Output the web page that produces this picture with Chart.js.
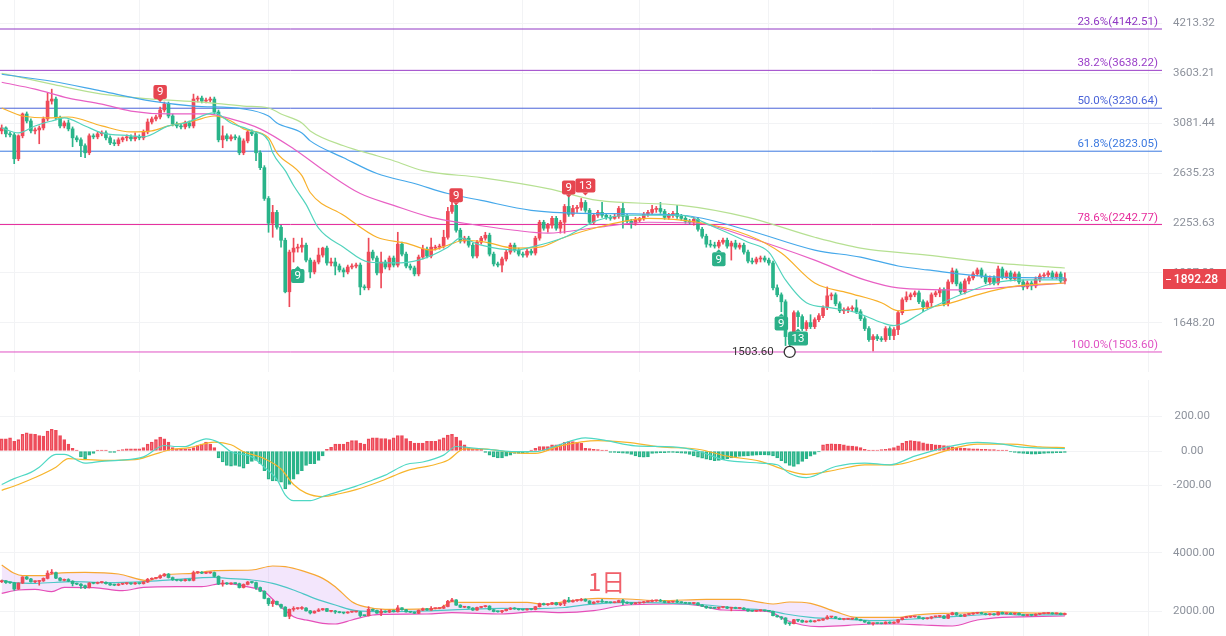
<!DOCTYPE html>
<html lang="zh">
<head>
<meta charset="utf-8">
<title>1日</title>
<script src="https://cdn.jsdelivr.net/npm/chart.js@4.4.1/dist/chart.umd.min.js"></script>
<style>
  html, body { margin: 0; padding: 0; background: #fff; }
  body { position: relative; width: 1226px; height: 636px; overflow: hidden; }
  .pane { position: absolute; left: 0; width: 1226px; }
  .pane canvas { display: block; }
  #periodTag { position: absolute; left: 588px; top: 569px; font: 24px/24px "Noto Sans CJK SC", sans-serif; color: #f0606a; }
</style>
</head>
<body>
<div class="pane" style="top:0;height:372px"><canvas id="priceChart" width="1226" height="372"></canvas></div>
<div class="pane" style="top:380px;height:140px"><canvas id="macdChart" width="1226" height="140"></canvas></div>
<div class="pane" style="top:520px;height:116px"><canvas id="bandChart" width="1226" height="116"></canvas></div>
<div id="periodTag">1日</div>
<script>
// daily candles, index 0..255
const opens = [
  3009, 3037, 2981, 2972, 2757, 2963, 3173, 3104, 3009, 3018,
  3037, 3124, 3304, 3325, 3134, 3056, 3085, 3028, 2944, 2926,
  2872, 2809, 2963, 2953, 2981, 2990, 2944, 2898, 2890, 2926,
  2944, 2953, 2935, 2953, 2944, 2999, 3094, 3124, 3143, 3213,
  3273, 3153, 3075, 3056, 3047, 3085, 3056, 3325, 3335, 3304,
  3314, 3325, 3193, 2926, 2963, 2935, 2953, 2944, 2809, 2916,
  2999, 2981, 2809, 2681, 2434, 2252, 2330, 2224, 2135, 1816,
  2057, 2083, 2089, 2102, 2006, 1933, 1994, 2038, 2083, 1988,
  1994, 1969, 1945, 1933, 1963, 1969, 1975, 1844, 1839, 2057,
  2019, 1927, 1994, 1963, 2019, 1975, 2109, 2044, 1969, 1957,
  1921, 2025, 2076, 2032, 2083, 2089, 2096, 2155, 2337, 2382,
  2203, 2129, 2149, 2102, 2032, 2122, 2149, 2169, 2044, 1982,
  1975, 2013, 2057, 2102, 2070, 2044, 2038, 2063, 2051, 2149,
  2259, 2217, 2238, 2287, 2217, 2259, 2374, 2316, 2359, 2367,
  2404, 2345, 2259, 2309, 2330, 2309, 2294, 2287, 2301, 2359,
  2301, 2266, 2252, 2273, 2287, 2316, 2330, 2352, 2359, 2337,
  2294, 2309, 2323, 2301, 2287, 2266, 2259, 2280, 2210, 2162,
  2109, 2102, 2096, 2122, 2135, 2096, 2116, 2089, 2102, 2057,
  2000, 1994, 2013, 2019, 2006, 1988, 1839, 1799, 1760, 1578,
  1563, 1701, 1680, 1618, 1649, 1628, 1664, 1685, 1727, 1793,
  1799, 1749, 1711, 1717, 1722, 1727, 1706, 1669, 1618, 1563,
  1578, 1568, 1563, 1618, 1583, 1613, 1701, 1771, 1788, 1799,
  1810, 1760, 1733, 1755, 1799, 1810, 1827, 1749, 1873, 1939,
  1862, 1816, 1879, 1897, 1921, 1945, 1909, 1873, 1897, 1867,
  1951, 1903, 1927, 1891, 1921, 1873, 1844, 1867, 1850, 1891,
  1909, 1915, 1927, 1903, 1921, 1879
];
const highs = [
  3066, 3047, 2999, 2990, 2972, 3183, 3193, 3124, 3037, 3056,
  3143, 3387, 3430, 3346, 3153, 3104, 3114, 3047, 2963, 2944,
  2890, 2981, 2981, 2999, 3009, 3009, 2963, 2926, 2944, 2953,
  2972, 2972, 2990, 2972, 3018, 3124, 3143, 3163, 3243, 3294,
  3294, 3173, 3094, 3075, 3104, 3104, 3377, 3356, 3356, 3335,
  3346, 3346, 3213, 3056, 2981, 2972, 2972, 2963, 2935, 3018,
  3018, 2999, 2827, 2698, 2449, 2382, 2345, 2238, 2149, 2070,
  2149, 2109, 2149, 2116, 2019, 2006, 2083, 2089, 2096, 2019,
  2019, 1982, 1957, 1975, 1982, 1988, 1988, 1856, 2149, 2070,
  2032, 2057, 2006, 2032, 2032, 2189, 2122, 2057, 1982, 1969,
  2038, 2102, 2089, 2149, 2102, 2109, 2203, 2367, 2434, 2397,
  2217, 2162, 2162, 2116, 2135, 2162, 2189, 2183, 2057, 1994,
  2025, 2070, 2116, 2116, 2083, 2057, 2076, 2076, 2162, 2273,
  2273, 2252, 2301, 2301, 2273, 2389, 2472, 2382, 2382, 2434,
  2419, 2359, 2323, 2345, 2404, 2323, 2309, 2316, 2374, 2404,
  2316, 2280, 2294, 2294, 2330, 2345, 2382, 2374, 2404, 2352,
  2323, 2337, 2382, 2316, 2301, 2280, 2294, 2294, 2224, 2176,
  2135, 2122, 2135, 2149, 2149, 2129, 2135, 2116, 2116, 2070,
  2019, 2025, 2032, 2032, 2019, 2000, 1856, 1810, 1771, 1588,
  1711, 1711, 1690, 1659, 1690, 1674, 1696, 1738, 1844, 1810,
  1810, 1760, 1727, 1733, 1738, 1771, 1717, 1680, 1628, 1588,
  1588, 1578, 1628, 1628, 1623, 1711, 1782, 1816, 1810, 1821,
  1821, 1771, 1765, 1810, 1821, 1839, 1839, 1885, 1957, 1951,
  1873, 1891, 1909, 1933, 1957, 1957, 1921, 1909, 1909, 1969,
  1963, 1939, 1939, 1933, 1933, 1885, 1879, 1879, 1903, 1921,
  1927, 1939, 1939, 1933, 1933, 1927
];
const lows = [
  2981, 2953, 2953, 2715, 2740, 2944, 3085, 2990, 2981, 2890,
  3018, 3104, 3273, 3114, 3037, 3037, 3009, 2863, 2907, 2775,
  2766, 2792, 2935, 2935, 2963, 2926, 2881, 2872, 2872, 2907,
  2916, 2916, 2916, 2926, 2926, 2981, 3075, 3104, 3124, 3193,
  3134, 3056, 3037, 3028, 3028, 3037, 3037, 3294, 3284, 3284,
  3294, 3173, 2907, 2854, 2916, 2916, 2926, 2792, 2792, 2898,
  2963, 2740, 2664, 2419, 2189, 2155, 2210, 2089, 1810, 1733,
  1994, 2057, 2057, 1994, 1897, 1921, 1982, 2025, 1975, 1969,
  1915, 1933, 1903, 1921, 1951, 1957, 1799, 1827, 1827, 2006,
  1915, 1839, 1951, 1945, 1963, 1963, 2032, 1957, 1945, 1909,
  1909, 2013, 2019, 2019, 2070, 2076, 2083, 2142, 2323, 2189,
  2116, 2116, 2089, 2019, 2019, 2109, 2135, 2032, 1969, 1963,
  1933, 2000, 2044, 2057, 2032, 2025, 2025, 2038, 2038, 2135,
  2203, 2189, 2217, 2203, 2183, 2183, 2301, 2301, 2330, 2345,
  2330, 2245, 2245, 2294, 2294, 2280, 2273, 2280, 2287, 2217,
  2252, 2217, 2238, 2259, 2273, 2301, 2316, 2330, 2323, 2280,
  2280, 2294, 2287, 2273, 2252, 2245, 2238, 2196, 2149, 2089,
  2089, 2083, 2083, 2109, 2083, 2006, 2076, 2076, 2044, 1988,
  1982, 1982, 1994, 1994, 1975, 1827, 1788, 1706, 1534, 1503.6,
  1554, 1628, 1608, 1608, 1618, 1618, 1654, 1674, 1717, 1771,
  1738, 1701, 1696, 1701, 1706, 1696, 1659, 1608, 1554, 1508,
  1558, 1554, 1554, 1563, 1563, 1588, 1690, 1760, 1771, 1788,
  1749, 1706, 1722, 1727, 1788, 1788, 1738, 1738, 1862, 1850,
  1804, 1804, 1862, 1885, 1909, 1897, 1862, 1856, 1856, 1856,
  1891, 1891, 1879, 1879, 1862, 1827, 1833, 1827, 1839, 1873,
  1897, 1903, 1891, 1891, 1867, 1862
];
const closes = [
  3037, 2981, 2972, 2757, 2963, 3173, 3104, 3009, 3018, 3037,
  3124, 3304, 3325, 3134, 3056, 3085, 3028, 2944, 2926, 2872,
  2809, 2963, 2953, 2981, 2990, 2944, 2898, 2890, 2926, 2944,
  2953, 2935, 2953, 2944, 2999, 3094, 3124, 3143, 3213, 3273,
  3153, 3075, 3056, 3047, 3085, 3056, 3325, 3335, 3304, 3314,
  3325, 3193, 2926, 2963, 2935, 2953, 2944, 2809, 2916, 2999,
  2981, 2809, 2681, 2434, 2252, 2330, 2224, 2135, 1816, 2057,
  2083, 2089, 2102, 2006, 1933, 1994, 2038, 2083, 1988, 1994,
  1969, 1945, 1933, 1963, 1969, 1975, 1844, 1839, 2057, 2019,
  1927, 1994, 1963, 2019, 1975, 2109, 2044, 1969, 1957, 1921,
  2025, 2076, 2032, 2089, 2089, 2096, 2155, 2337, 2382, 2203,
  2129, 2149, 2102, 2032, 2122, 2149, 2169, 2044, 1982, 1975,
  2013, 2057, 2102, 2070, 2044, 2038, 2063, 2051, 2149, 2259,
  2217, 2238, 2287, 2217, 2259, 2374, 2316, 2359, 2367, 2404,
  2345, 2259, 2309, 2330, 2309, 2294, 2287, 2301, 2359, 2301,
  2266, 2252, 2280, 2287, 2316, 2330, 2352, 2359, 2337, 2294,
  2309, 2323, 2301, 2287, 2266, 2259, 2280, 2210, 2162, 2109,
  2102, 2096, 2122, 2135, 2096, 2116, 2089, 2102, 2057, 2000,
  1994, 2013, 2019, 2006, 1988, 1839, 1799, 1760, 1578, 1563,
  1701, 1680, 1618, 1649, 1628, 1664, 1685, 1727, 1793, 1799,
  1749, 1711, 1717, 1722, 1727, 1706, 1669, 1618, 1563, 1578,
  1568, 1563, 1618, 1583, 1613, 1701, 1771, 1788, 1799, 1810,
  1760, 1733, 1755, 1799, 1810, 1827, 1749, 1873, 1939, 1862,
  1816, 1879, 1897, 1921, 1945, 1909, 1873, 1897, 1867, 1951,
  1903, 1927, 1891, 1921, 1873, 1844, 1867, 1850, 1891, 1909,
  1915, 1927, 1903, 1921, 1879, 1892.28
];

// moving averages at these candle indices
const maTealIdx = [0, 4, 8, 12, 15, 20, 24, 31, 34, 40, 44, 51, 55, 60, 64, 65, 68, 70, 73, 76, 82, 88, 94, 100, 107, 110, 115, 123, 127, 135, 143, 151, 163, 171, 179, 184, 188, 193, 199, 205, 211, 214, 222, 230, 238, 246, 255];
const maTeal = [3037, 2990, 3056, 3104, 3134, 3056, 2990, 2963, 2953, 3056, 3085, 3183, 3085, 3009, 2916, 2809, 2656, 2535, 2389, 2217, 2089, 1994, 1988, 2006, 2089, 2149, 2102, 2070, 2089, 2155, 2273, 2309, 2309, 2224, 2122, 2057, 1885, 1755, 1727, 1701, 1649, 1633, 1717, 1799, 1867, 1885, 1885];
const maOrangeIdx = [0, 5, 12, 16, 24, 31, 36, 40, 46, 51, 55, 58, 64, 66, 72, 74, 82, 90, 97, 103, 107, 111, 116, 123, 129, 135, 143, 155, 167, 179, 187, 195, 203, 211, 215, 226, 234, 242, 255];
const maOrange = [3233, 3153, 3134, 3143, 3056, 2999, 3009, 3056, 3104, 3153, 3104, 3028, 2944, 2809, 2615, 2480, 2309, 2155, 2116, 2070, 2102, 2135, 2122, 2083, 2089, 2155, 2224, 2287, 2259, 2169, 2051, 1867, 1810, 1755, 1711, 1744, 1799, 1844, 1867];
const maPinkIdx = [0, 8, 16, 24, 31, 40, 49, 55, 62, 70, 78, 86, 94, 103, 111, 123, 131, 143, 155, 167, 179, 195, 207, 215, 230, 242, 255];
const maPink = [3505, 3430, 3335, 3273, 3202, 3173, 3173, 3124, 3028, 2845, 2640, 2472, 2382, 2294, 2252, 2203, 2183, 2224, 2259, 2252, 2155, 2006, 1885, 1839, 1827, 1844, 1867];
const maBlueIdx = [0, 12, 24, 36, 46, 58, 64, 66, 72, 74, 82, 90, 99, 107, 115, 127, 139, 163, 179, 195, 206, 215, 222, 238, 255];
const maBlue = [3594, 3516, 3408, 3304, 3253, 3223, 3153, 3085, 2990, 2916, 2766, 2632, 2551, 2472, 2419, 2345, 2323, 2309, 2203, 2070, 2025, 1969, 1945, 1903, 1897];
const maLimeIdx = [0, 12, 24, 36, 48, 58, 64, 67, 72, 74, 82, 90, 94, 101, 115, 131, 143, 163, 179, 195, 206, 222, 238, 255];
const maLime = [3605, 3484, 3377, 3325, 3294, 3253, 3233, 3173, 3085, 3009, 2872, 2783, 2740, 2656, 2599, 2511, 2419, 2382, 2294, 2155, 2083, 2038, 1988, 1957];

// fibonacci retracement levels
const fibNames = ['23.6%', '38.2%', '50.0%', '61.8%', '78.6%', '100.0%'];
const fibLevels = [4142.51, 3638.22, 3230.64, 2823.05, 2242.77, 1503.60];
const fibColors = ['#9138c4', '#9a3ec8', '#4a63d8', '#3a78e0', '#e62c9c', '#e052c4'];

// TD sequential counts
const tdSellIdx = [38, 109, 136, 140];
const tdSellAt = [3294, 2382, 2442, 2457];
const tdSellText = ['9', '9', '9', '13'];
const tdBuyIdx = [71, 172, 187, 191];
const tdBuyAt = [1969, 2076, 1696, 1618];
const tdBuyText = ['9', '9', '9', '13'];
const lowIdx = 189;

// MACD
const macdHist = [
  70, 70, 76, 56, 66, 96, 106, 100, 96, 90,
  86, 116, 126, 120, 90, 66, 40, 16, 6, -34,
  -44, -24, -14, 6, 6, 6, -8, -8, 4, 8,
  12, 12, 12, 12, 20, 40, 52, 66, 80, 70,
  52, 20, 12, 12, 12, 12, 20, 32, 40, 52,
  40, 20, -40, -64, -84, -88, -84, -90, -100, -74,
  -60, -54, -74, -114, -164, -174, -174, -180, -220, -194,
  -164, -134, -114, -84, -74, -74, -54, -28, 10, 22,
  40, 40, 40, 52, 60, 60, 46, 40, 70, 76,
  76, 72, 72, 66, 76, 90, 90, 72, 56, 46,
  46, 46, 56, 56, 56, 66, 76, 92, 96, 80,
  60, 36, 20, 12, 12, 10, -8, -24, -34, -40,
  -40, -30, -24, -14, -14, -14, -8, 6, 16, 26,
  26, 26, 36, 36, 40, 50, 54, 54, 50, 44,
  16, 14, 10, 8, 6, 4, -8, -8, -10, -12,
  -14, -20, -28, -34, -36, -34, -14, -12, -10, -10,
  -8, -8, -10, -12, -14, -20, -28, -36, -42, -48,
  -52, -56, -54, -50, -44, -40, -36, -32, -30, -28,
  -26, -24, -22, -22, -24, -28, -40, -56, -70, -84,
  -90, -76, -60, -44, -30, -20, -6, 36, 40, 42,
  40, 38, 36, 30, 28, 26, 20, 10, 6, 4,
  6, 8, 10, 14, 20, 30, 46, 56, 60, 58,
  54, 48, 42, 38, 36, 34, 32, 30, 24, 20,
  18, 16, 14, 12, 12, 10, 10, 8, 8, 6,
  6, 4, -4, -8, -12, -14, -16, -18, -18, -16,
  -14, -12, -12, -10, -10, -8
];
const difIdx = [0, 3, 7, 9, 13, 15, 20, 24, 28, 34, 39, 42, 44, 47, 49, 52, 55, 60, 63, 66, 68, 70, 74, 77, 81, 85, 89, 92, 97, 101, 106, 109, 112, 118, 123, 128, 133, 140, 145, 152, 161, 167, 173, 182, 186, 189, 193, 200, 207, 213, 219, 228, 234, 240, 244, 255];
const difVals = [-194, -160, -124, -94, -20, -20, -70, -60, -54, -34, 32, 26, 26, 56, 70, 50, -4, -34, -94, -164, -254, -288, -288, -264, -234, -204, -168, -140, -78, -64, -24, 26, 20, 6, -4, -4, 30, 76, 60, 30, 24, 0, -50, -70, -80, -130, -154, -90, -70, -80, -30, 30, 50, 40, 24, 14];
const deaIdx = [0, 4, 8, 13, 16, 19, 25, 32, 36, 41, 45, 51, 55, 58, 63, 67, 70, 73, 77, 81, 85, 91, 94, 98, 103, 107, 111, 115, 120, 125, 128, 134, 143, 150, 158, 167, 174, 182, 188, 193, 200, 207, 214, 221, 229, 234, 242, 249, 255];
const deaVals = [-228, -194, -154, -94, -44, -48, -54, -50, -24, 10, 20, 52, 36, -4, -44, -104, -194, -244, -264, -248, -224, -174, -144, -108, -84, -54, 12, 12, 0, -14, -14, 30, 60, 50, 24, 10, -30, -60, -110, -136, -110, -80, -80, -40, 20, 40, 40, 24, 20];

// bands in the lower pane
const bandUpIdx = [0, 3, 5, 10, 13, 20, 28, 35, 39, 46, 51, 60, 65, 68, 72, 77, 80, 84, 87, 92, 105, 108, 110, 126, 130, 135, 140, 143, 150, 158, 169, 177, 182, 185, 189, 194, 200, 205, 215, 219, 226, 234, 238, 244, 255];
const bandUp = [3586, 3299, 3218, 3218, 3299, 3333, 3276, 3046, 3241, 3299, 3391, 3414, 3552, 3529, 3391, 3126, 2839, 2322, 2149, 2057, 2092, 2322, 2299, 2299, 2224, 2322, 2414, 2437, 2414, 2356, 2402, 2402, 2299, 2241, 2310, 2264, 1977, 1782, 1782, 1862, 1920, 1943, 1977, 1943, 1920];
const bandMidIdx = [0, 3, 8, 17, 25, 34, 42, 51, 54, 60, 65, 70, 75, 80, 85, 92, 102, 111, 120, 129, 135, 141, 150, 161, 169, 177, 184, 188, 194, 203, 209, 215, 221, 228, 234, 240, 244, 255];
const bandMid = [3069, 2977, 2954, 3011, 2977, 3011, 3092, 3161, 3126, 3069, 2954, 2724, 2437, 2207, 2011, 1977, 2000, 2057, 2092, 2080, 2120, 2230, 2299, 2264, 2207, 2092, 2011, 1897, 1782, 1713, 1667, 1690, 1747, 1805, 1862, 1897, 1862, 1874];
const bandLowIdx = [0, 4, 8, 12, 15, 22, 29, 34, 42, 48, 53, 60, 63, 66, 70, 73, 77, 80, 84, 89, 92, 102, 108, 120, 128, 134, 142, 150, 161, 167, 173, 184, 188, 192, 196, 203, 209, 215, 221, 228, 234, 240, 247, 255];
const bandLow = [2609, 2724, 2747, 2667, 2816, 2805, 2701, 2816, 2839, 2839, 2954, 2805, 2667, 2264, 1805, 1690, 1575, 1552, 1690, 1862, 1885, 1897, 1943, 1897, 1977, 1943, 2011, 2207, 2241, 2195, 2034, 1977, 1690, 1517, 1460, 1506, 1552, 1552, 1517, 1483, 1690, 1782, 1805, 1828];

// axis ticks
const priceTicks = [4213.32, 3603.21, 3081.44, 2635.23, 2253.63, 1927.30, 1648.20];
const macdTicks = [200, 0, -200];
const bandTicks = [4000, 2000];
const gridIdx = [3, 33, 64, 94, 125, 153, 184, 214, 245, 275];

const UP = '#ee4a59', DOWN = '#2ab48a';
const X_MIN = -0.41, X_MAX = 278.3;

Chart.defaults.font.family = 'Roboto, "Noto Sans", sans-serif';
Chart.defaults.font.size = 11.5;
Chart.defaults.color = '#8c919b';
Chart.defaults.animation = false;
Chart.defaults.events = [];
Chart.defaults.plugins.legend.display = false;
Chart.defaults.plugins.tooltip.enabled = false;

const pts = (idx, vals) => idx.map((x, k) => ({ x, y: vals[k] }));

function xAxis() {
  return {
    type: 'linear', min: X_MIN, max: X_MAX, offset: false, bounds: 'data',
    afterBuildTicks: s => { s.ticks = gridIdx.map(value => ({ value })); },
    afterFit: s => { s.height = 0; s.paddingLeft = 0; s.paddingRight = 0; },
    ticks: { display: false },
    grid: { color: '#f2f3f5', drawTicks: false, offset: false },
    border: { display: false }
  };
}

function yAxis(type, min, max, tickValues) {
  return {
    type, position: 'right', min, max, bounds: 'data', beginAtZero: false,
    afterBuildTicks: s => { s.ticks = tickValues.map(value => ({ value })); },
    afterFit: s => { s.width = 64; s.paddingTop = 0; s.paddingBottom = 0; },
    ticks: { callback: v => Number(v).toFixed(2), padding: 11, crossAlign: 'center', autoSkip: false },
    grid: { color: '#f2f3f5', drawTicks: false },
    border: { display: false }
  };
}

function candleSets(bodyW, order) {
  const color = c => (closes[c.dataIndex] >= opens[c.dataIndex] ? UP : DOWN);
  return [
    { type: 'bar', data: closes.map((_, i) => ({ x: i, y: [lows[i], highs[i]] })),
      barThickness: 1, backgroundColor: color, grouped: false, order },
    { type: 'bar', data: closes.map((_, i) => ({ x: i, y: [opens[i], closes[i]] })),
      barThickness: bodyW, minBarLength: 1, backgroundColor: color, grouped: false, order }
  ];
}

const line = (data, color, order = 1) => ({
  type: 'line', data, borderColor: color, borderWidth: 1.2, pointRadius: 0,
  fill: false, cubicInterpolationMode: 'monotone', order
});

function drawTag(ctx, cx, tipY, text, color, above) {
  const w = ctx.measureText(text).width + 7, h = 14;
  const top = above ? tipY - 3 - h : tipY + 3;
  ctx.fillStyle = color;
  ctx.beginPath();
  ctx.roundRect(cx - w / 2, top, w, h, 2);
  ctx.fill();
  ctx.beginPath();
  const edge = above ? top + h : top;
  ctx.moveTo(cx - 3, edge);
  ctx.lineTo(cx + 3, edge);
  ctx.lineTo(cx, tipY);
  ctx.fill();
  ctx.fillStyle = '#fff';
  ctx.textAlign = 'center';
  ctx.textBaseline = 'middle';
  ctx.fillText(text, cx, top + h / 2 + 0.5);
}

const priceOverlay = {
  id: 'priceOverlay',
  afterDatasetsDraw(chart) {
    const { ctx, chartArea: area, scales: { x, y } } = chart;
    ctx.save();
    ctx.font = '11.5px Roboto, sans-serif';
    ctx.textAlign = 'right';
    ctx.textBaseline = 'bottom';
    fibLevels.forEach((lv, k) => {
      ctx.fillStyle = fibColors[k];
      ctx.fillText(fibNames[k] + '(' + lv.toFixed(2) + ')', area.right - 4, y.getPixelForValue(lv) - 1);
    });
    tdSellIdx.forEach((i, k) => drawTag(ctx, x.getPixelForValue(i), y.getPixelForValue(tdSellAt[k]), tdSellText[k], '#e6454f', true));
    tdBuyIdx.forEach((i, k) => drawTag(ctx, x.getPixelForValue(i), y.getPixelForValue(tdBuyAt[k]), tdBuyText[k], '#2bb088', false));

    // lowest low marker
    const lx = x.getPixelForValue(lowIdx), ly = y.getPixelForValue(lows[lowIdx]);
    ctx.beginPath();
    ctx.arc(lx, ly, 5.5, 0, Math.PI * 2);
    ctx.fillStyle = '#fff';
    ctx.fill();
    ctx.lineWidth = 1.3;
    ctx.strokeStyle = '#333';
    ctx.stroke();
    ctx.fillStyle = '#333';
    ctx.textAlign = 'right';
    ctx.textBaseline = 'middle';
    ctx.fillText(lows[lowIdx].toFixed(2), lx - 16, ly);
    ctx.restore();
  },
  afterDraw(chart) {
    // last price tag on the axis
    const { ctx, chartArea: area, scales: { y } } = chart;
    const last = closes[closes.length - 1];
    const py = Math.round(y.getPixelForValue(last));
    ctx.save();
    ctx.fillStyle = '#e8464f';
    ctx.fillRect(area.right + 1, py - 10, 64, 20);
    ctx.strokeStyle = '#fff';
    ctx.lineWidth = 1;
    ctx.beginPath();
    ctx.moveTo(area.right + 4, py + 0.5);
    ctx.lineTo(area.right + 9, py + 0.5);
    ctx.stroke();
    ctx.fillStyle = '#fff';
    ctx.font = '500 12px Roboto, sans-serif';
    ctx.textAlign = 'center';
    ctx.textBaseline = 'middle';
    ctx.fillText(last.toFixed(2), area.right + 34, py + 0.5);
    ctx.restore();
  }
};

new Chart(document.getElementById('priceChart'), {
  type: 'bar',
  data: {
    datasets: [
      ...candleSets(3, 2),
      line(pts(maTealIdx, maTeal), '#52d3bd'),
      line(pts(maOrangeIdx, maOrange), '#f8b02a'),
      line(pts(maPinkIdx, maPink), '#e860c4'),
      line(pts(maBlueIdx, maBlue), '#45a8ea'),
      line(pts(maLimeIdx, maLime), '#b6e092'),
      ...fibLevels.map((v, k) => ({
        type: 'line', data: [{ x: X_MIN, y: v }, { x: X_MAX, y: v }],
        borderColor: fibColors[k], borderWidth: 1, pointRadius: 0, order: 3
      }))
    ]
  },
  options: {
    responsive: false,
    layout: { padding: 0 },
    scales: { x: xAxis(), y: yAxis('logarithmic', 1412.0, 4537.2, priceTicks) }
  },
  plugins: [priceOverlay]
});

const histFill = c => {
  const i = c.dataIndex, v = macdHist[i], p = i > 0 ? macdHist[i - 1] : 0;
  const growing = Math.abs(v) > Math.abs(p);
  if (v >= 0) return growing ? 'rgba(238,74,89,0.35)' : UP;
  return growing ? 'rgba(42,180,138,0.35)' : DOWN;
};

new Chart(document.getElementById('macdChart'), {
  type: 'bar',
  data: {
    datasets: [
      { type: 'bar', data: macdHist.map((v, i) => ({ x: i, y: v })), barThickness: 3, minBarLength: 1,
        grouped: false, backgroundColor: histFill, borderColor: c => (macdHist[c.dataIndex] >= 0 ? UP : DOWN),
        borderWidth: 1, borderSkipped: false, order: 2 },
      line(pts(difIdx, difVals), '#4fd8c4'),
      line(pts(deaIdx, deaVals), '#f7b52c')
    ]
  },
  options: {
    responsive: false,
    layout: { padding: 0 },
    scales: { x: xAxis(), y: yAxis('linear', -400, 411.6, macdTicks) }
  }
});

new Chart(document.getElementById('bandChart'), {
  type: 'bar',
  data: {
    datasets: [
      { ...line(pts(bandUpIdx, bandUp), '#f7a734'), fill: '+2', backgroundColor: 'rgba(200,140,240,0.22)' },
      line(pts(bandMidIdx, bandMid), '#4cc6c6'),
      line(pts(bandLowIdx, bandLow), '#e64fb8'),
      ...candleSets(3, 0)
    ]
  },
  options: {
    responsive: false,
    layout: { padding: 0 },
    plugins: { filler: { drawTime: 'beforeDatasetsDraw' } },
    scales: { x: xAxis(), y: yAxis('linear', 1138, 5137.7, bandTicks) }
  }
});
</script>
</body>
</html>
